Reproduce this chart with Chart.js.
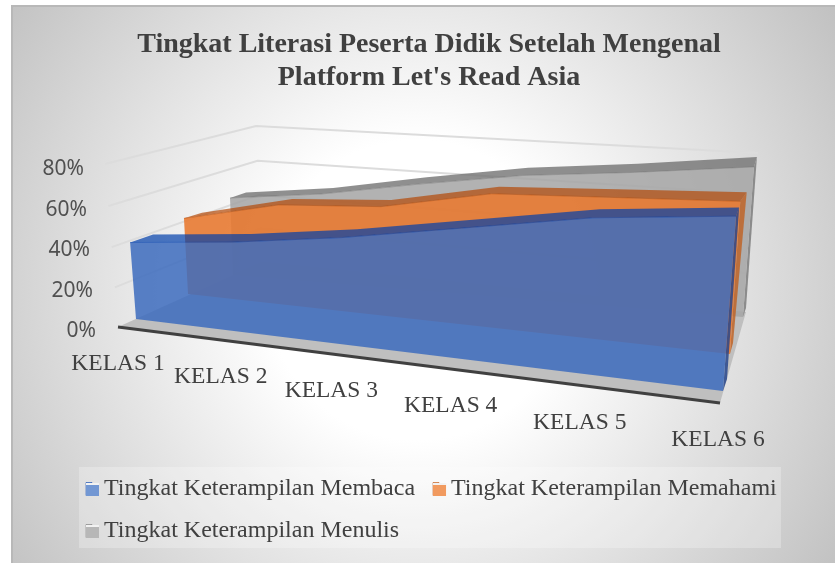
<!DOCTYPE html>
<html>
<head>
<meta charset="utf-8">
<script src="https://cdn.jsdelivr.net/npm/chart.js@4"></script>
<style>body { margin: 0; background: #fff; } canvas { display: block; }</style>
</head>
<body>
<canvas id="chart" width="835" height="563"></canvas>
<script>
const categories = ["KELAS 1", "KELAS 2", "KELAS 3", "KELAS 4", "KELAS 5", "KELAS 6"];
const membaca = [40, 45, 52, 61, 70, 75];
const memahami = [41, 52, 55, 65, 67, 69];
const menulis = [44, 49, 57, 64, 68, 73];
const seriesNames = ["Tingkat Keterampilan Membaca", "Tingkat Keterampilan Memahami", "Tingkat Keterampilan Menulis"];

// view of the 3D box: corners are [bottom left, bottom right, top right, top left] of a plane
const views = [
  { front: [[136, 319], [723, 391], [737, 204], [124, 163]], back: [[159, 309], [727, 379], [740, 195.5], [147, 157]] },
  { front: [[188, 294], [730, 354], [742, 176], [180, 144]], back: [[207, 285.5], [733, 343], [749, 167], [197, 140.5]] },
  { front: [[233, 275], [743, 317], [755, 152], [227.5, 133]], back: [[249, 268], [746, 308], [758, 142], [243.6, 129]] }
];
const leftWall = [[118, 327], [262, 262], [256, 126], [105, 164]];
const backWall = [[262, 262], [746, 312], [758, 153], [256, 126]];
const axisPlane = [[118, 327], [720, 403], [733, 207], [105, 164]];

const faces = [
  { front: "rgba(62,108,190,0.86)", top: "rgba(0,62,171,0.7)", side: "rgba(40,70,140,0.85)" },
  { front: "rgba(232,122,50,0.9)", top: "rgba(180,73,7,0.7)", side: "rgba(190,100,40,0.85)" },
  { front: "rgba(165,165,165,0.85)", top: "rgba(115,115,115,0.8)", side: "rgba(125,125,125,0.85)" }
];
const swatches = ["#7297d3", "#f19a5f", "#b7b7b7"];

function homography(q) {
  const [p0, p1, p2, p3] = q;
  const dx1 = p1[0] - p2[0], dx2 = p3[0] - p2[0], sx = p0[0] - p1[0] + p2[0] - p3[0];
  const dy1 = p1[1] - p2[1], dy2 = p3[1] - p2[1], sy = p0[1] - p1[1] + p2[1] - p3[1];
  const den = dx1 * dy2 - dx2 * dy1;
  const g = (sx * dy2 - dx2 * sy) / den;
  const h = (dx1 * sy - sx * dy1) / den;
  const a = p1[0] - p0[0] + g * p1[0], b = p3[0] - p0[0] + h * p3[0];
  const d = p1[1] - p0[1] + g * p1[1], e = p3[1] - p0[1] + h * p3[1];
  return (u, v) => {
    const w = g * u + h * v + 1;
    return [(a * u + b * v + p0[0]) / w, (d * u + e * v + p0[1]) / w];
  };
}

function toUnit(chart, px, py) {
  const ca = chart.chartArea;
  return [(px - ca.left) / (ca.right - ca.left), (ca.bottom - py) / (ca.bottom - ca.top)];
}

function poly(ctx, pts, fill) {
  ctx.beginPath();
  pts.forEach((p, i) => i ? ctx.lineTo(p[0], p[1]) : ctx.moveTo(p[0], p[1]));
  ctx.closePath();
  ctx.fillStyle = fill;
  ctx.fill();
}

const perspective = {
  id: "perspective",
  beforeLayout(chart) {
    // legend sits in its own box, it must not eat the plot height
    const lg = chart.legend;
    if (!lg._patched) {
      const fit = lg.fit;
      lg.fit = function () { fit.call(this); this.height = 0; };
      lg._patched = true;
    }
  },
  afterDatasetsUpdate(chart) {
    const xs = chart.scales.x, ys = chart.scales.y;
    chart.data.datasets.forEach((ds, n) => {
      const front = homography(views[n].front);
      chart.getDatasetMeta(n).data.forEach((pt, i) => {
        const uv = toUnit(chart, xs.getPixelForValue(i), ys.getPixelForValue(ds.data[i]));
        const p = front(uv[0], uv[1]);
        pt.x = p[0];
        pt.y = p[1];
      });
    });
  },
  afterUpdate(chart) {
    const xs = chart.scales.x, ys = chart.scales.y;
    const axis = homography(axisPlane);
    xs.getLabelItems().forEach((item, i) => {
      const uv = toUnit(chart, xs.getPixelForValue(i), ys.getPixelForValue(0));
      const p = axis(uv[0], 0);
      item.options.translation = [p[0] - (i === 5 ? 2 : 0), p[1] + 23];
      item.options.textBaseline = "middle";
    });
    // tick labels lean with the left wall
    ys.getLabelItems().forEach((item, i) => {
      item.options.translation[0] -= ys.ticks[i].value * 0.15;
      item.options.translation[1] += 2;
    });
    const lg = chart.legend;
    lg.left = 68; lg.right = 800; lg.top = 459; lg.bottom = 548; lg.width = 732;
    // title is centred on the card, slightly right of the canvas middle
    chart.titleBlock.left = 23;
  },
  beforeDraw(chart) {
    const ctx = chart.ctx;
    ctx.save();
    ctx.fillStyle = "#fff";
    ctx.fillRect(0, 0, chart.width, chart.height);
    const grad = ctx.createRadialGradient(417, 290, 150, 417, 290, 500);
    grad.addColorStop(0, "#ffffff");
    grad.addColorStop(1, "#c2c2c2");
    ctx.fillStyle = grad;
    ctx.fillRect(11, 5, chart.width - 11, chart.height - 5);
    ctx.fillStyle = "#b8b8b8";
    ctx.fillRect(11, 5, chart.width - 11, 2);
    ctx.fillRect(11, 5, 2, chart.height - 5);
    ctx.fillStyle = "rgba(255,255,255,0.25)";
    ctx.fillRect(79, 467, 702, 81);
    ctx.restore();
  },
  beforeDatasetsDraw(chart) {
    const ctx = chart.ctx, ys = chart.scales.y;
    const left = homography(leftWall), back = homography(backWall), axis = homography(axisPlane);
    ctx.save();
    poly(ctx, [leftWall[0], axisPlane[1], backWall[1], backWall[0]], "#bfbfbf");
    ctx.strokeStyle = "#dcdcdc";
    ctx.lineWidth = 2;
    ys.ticks.forEach(t => {
      const v = toUnit(chart, chart.chartArea.left, ys.getPixelForValue(t.value))[1];
      if (v === 0) return;
      const a = left(0, v), b = left(1, v), c = back(1, v);
      ctx.beginPath();
      ctx.moveTo(a[0], a[1]);
      ctx.lineTo(b[0], b[1]);
      ctx.lineTo(c[0], c[1]);
      ctx.stroke();
    });
    const e0 = axis(0, 0), e1 = axis(1, 0);
    ctx.strokeStyle = "#404040";
    ctx.lineWidth = 3;
    ctx.beginPath();
    ctx.moveTo(e0[0], e0[1]);
    ctx.lineTo(e1[0], e1[1]);
    ctx.stroke();
    ctx.restore();
  },
  beforeDatasetDraw(chart, args) {
    const n = args.index, ctx = chart.ctx;
    const xs = chart.scales.x, ys = chart.scales.y;
    const ds = chart.data.datasets[n];
    const front = homography(views[n].front), rear = homography(views[n].back);
    const top = args.meta.data.map(pt => [pt.x, pt.y]);
    const topBack = ds.data.map((v, i) => {
      const uv = toUnit(chart, xs.getPixelForValue(i), ys.getPixelForValue(v));
      return rear(uv[0], uv[1]);
    });
    const u0 = toUnit(chart, xs.getPixelForValue(0), 0)[0];
    const u1 = toUnit(chart, xs.getPixelForValue(ds.data.length - 1), 0)[0];
    const last = top.length - 1;
    ctx.save();
    poly(ctx, [top[last], topBack[last], rear(u1, 0), front(u1, 0)], faces[n].side);
    poly(ctx, top.concat(topBack.slice().reverse()), faces[n].top);
    poly(ctx, top.concat([front(u1, 0), front(u0, 0)]), faces[n].front);
    ctx.restore();
  },
  afterDraw(chart) {
    // legend swatches with the lit top edge of a 3D key
    const ctx = chart.ctx, lg = chart.legend;
    const pad = lg.options.labels.padding;
    let x = lg.left + pad, y = 483, row = 0;
    ctx.save();
    lg.legendHitBoxes.forEach((hb, i) => {
      if (hb.row !== row) {
        row = hb.row;
        x = lg.left + pad;
        y += 42;
      }
      ctx.fillStyle = swatches[i];
      ctx.fillRect(x, y, 13, 13);
      ctx.fillStyle = "#f2f2f2";
      ctx.fillRect(x, y, 13, 2);
      x += hb.width + pad;
    });
    ctx.restore();
  }
};

new Chart(document.getElementById("chart"), {
  type: "line",
  data: {
    labels: categories,
    datasets: [
      { label: seriesNames[0], data: membaca, backgroundColor: swatches[0], borderColor: "rgba(0,62,171,0.5)" },
      { label: seriesNames[1], data: memahami, backgroundColor: swatches[1], borderColor: "rgba(180,73,7,0.5)" },
      { label: seriesNames[2], data: menulis, backgroundColor: swatches[2], borderColor: "rgba(115,115,115,0.5)" }
    ]
  },
  options: {
    responsive: false,
    animation: false,
    events: [],
    clip: false,
    elements: { point: { radius: 0 }, line: { borderWidth: 1, tension: 0 } },
    layout: { padding: 0 },
    scales: {
      x: {
        offset: false,
        grid: { display: false },
        border: { display: false },
        ticks: { autoSkip: false, maxRotation: 0, color: "#404040", font: { family: "Liberation Serif", size: 23.5 } },
        afterFit(scale) { scale.height = 234; }
      },
      y: {
        min: 0,
        max: 80,
        grid: { display: false, drawTicks: false },
        border: { display: false },
        ticks: {
          stepSize: 20,
          padding: 8,
          color: "#505050",
          font: { family: "Noto Sans", size: 21 },
          callback: v => v + "%"
        },
        afterFit(scale) { scale.width = 104; }
      }
    },
    plugins: {
      tooltip: { enabled: false },
      title: {
        display: true,
        text: ["Tingkat Literasi Peserta Didik Setelah Mengenal", "Platform Let's Read Asia"],
        color: "#404040",
        font: { family: "Liberation Serif", size: 28, weight: "bold", lineHeight: 1.18 },
        padding: { top: 28.5, bottom: 72.5 }
      },
      legend: {
        position: "bottom",
        align: "start",
        labels: {
          boxWidth: 6,
          boxHeight: 13,
          padding: 18,
          color: "#404040",
          font: { family: "Liberation Serif", size: 24 }
        }
      }
    }
  },
  plugins: [perspective]
});
</script>
</body>
</html>
